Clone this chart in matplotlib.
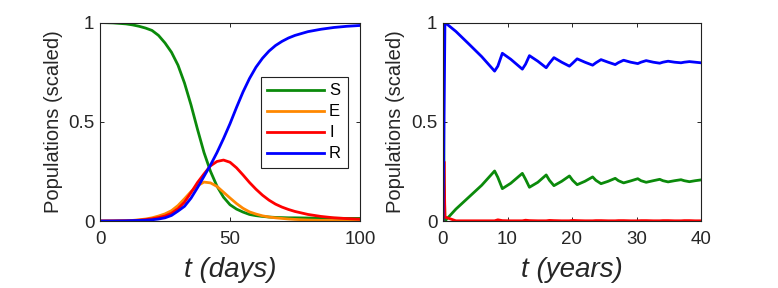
import matplotlib
matplotlib.use("Agg")
import matplotlib.pyplot as plt

plt.rcParams['font.family'] = ['Liberation Sans', 'DejaVu Sans']

# left panel: SEIR over days
t_days = [0, 5, 10, 12.5, 15, 17.5, 20, 22.5, 25, 27.5, 30, 32.5, 35, 37.5, 40, 42.5, 45,
          47.5, 50, 52.5, 55, 57.5, 60, 62.5, 65, 67.5, 70, 72.5, 75, 80, 85, 90, 95, 100]
S_days = [1.0, 0.998, 0.993, 0.988, 0.981, 0.972, 0.96, 0.935, 0.897, 0.85, 0.785, 0.695,
          0.585, 0.462, 0.345, 0.25, 0.175, 0.12, 0.082, 0.06, 0.045, 0.033, 0.027, 0.023,
          0.02, 0.018, 0.017, 0.016, 0.016, 0.015, 0.014, 0.014, 0.013, 0.013]
E_days = [0.0, 0.0005, 0.002, 0.003, 0.006, 0.01, 0.016, 0.025, 0.036, 0.052, 0.078,
          0.112, 0.148, 0.178, 0.196, 0.192, 0.174, 0.145, 0.116, 0.088, 0.064, 0.046,
          0.035, 0.026, 0.02, 0.016, 0.013, 0.01, 0.008, 0.005, 0.003, 0.002, 0.001, 0.001]
I_days = [0.0, 0.0003, 0.001, 0.002, 0.004, 0.007, 0.011, 0.017, 0.025, 0.039, 0.062,
          0.095, 0.143, 0.194, 0.237, 0.278, 0.3, 0.307, 0.296, 0.268, 0.232, 0.194, 0.16,
          0.13, 0.105, 0.085, 0.07, 0.058, 0.048, 0.033, 0.023, 0.016, 0.012, 0.009]
R_days = [0.0, 0.0002, 0.001, 0.002, 0.003, 0.004, 0.006, 0.01, 0.016, 0.028, 0.05,
          0.074, 0.115, 0.168, 0.225, 0.282, 0.345, 0.415, 0.49, 0.572, 0.65, 0.718, 0.775,
          0.82, 0.856, 0.884, 0.905, 0.922, 0.935, 0.954, 0.966, 0.975, 0.981, 0.985]

# right panel: long run over years
t_years = [0, 0.15, 0.3, 2, 4, 6, 8, 8.5, 9.2, 10.5, 12.3, 12.8, 13.4, 14.7, 16.0, 16.5,
           17.2, 18.4, 19.6, 20.1, 20.8, 22.0, 23.2, 23.7, 24.5, 25.6, 26.7, 27.2, 28.0,
           29.1, 30.2, 30.7, 31.5, 32.6, 33.6, 34.1, 34.9, 35.9, 36.9, 37.4, 38.2, 39.1, 40]
S_years = [1.0, 0.25, 0.0, 0.06, 0.12, 0.18, 0.252, 0.22, 0.163, 0.19, 0.24, 0.21, 0.17,
           0.195, 0.232, 0.205, 0.178, 0.2, 0.227, 0.205, 0.183, 0.2, 0.222, 0.205, 0.188,
           0.2, 0.215, 0.203, 0.192, 0.202, 0.213, 0.203, 0.195, 0.203, 0.21, 0.203, 0.197,
           0.203, 0.208, 0.203, 0.198, 0.203, 0.207]
I_years = [0.0, 0.3, 0.02, 0.001, 0.001, 0.001, 0.001, 0.006, 0.002, 0.001, 0.001, 0.004,
           0.002, 0.001, 0.001, 0.003, 0.002, 0.001, 0.001, 0.003, 0.002, 0.001, 0.001,
           0.002, 0.002, 0.001, 0.001, 0.002, 0.002, 0.001, 0.001, 0.002, 0.002, 0.001,
           0.001, 0.002, 0.002, 0.001, 0.001, 0.002, 0.002, 0.001, 0.001]
R_years = [0.0, 0.45, 1.0, 0.955, 0.892, 0.828, 0.755, 0.78, 0.845, 0.815, 0.765, 0.79,
           0.833, 0.805, 0.772, 0.795, 0.823, 0.8, 0.78, 0.795, 0.817, 0.8, 0.785, 0.797,
           0.813, 0.8, 0.788, 0.798, 0.81, 0.8, 0.793, 0.8, 0.808, 0.8, 0.795, 0.8, 0.805,
           0.8, 0.797, 0.8, 0.803, 0.8, 0.797]

labels = ["S", "E", "I", "R"]
c_S, c_E, c_I, c_R = "#0b8a0b", "#ff8800", "#ff0000", "#0000ff"
lw = 2.0
txt = "#262626"

fig = plt.figure(figsize=(7.78, 2.88), dpi=100)
ax1 = fig.add_axes([100 / 778, 67 / 288, 260 / 778, 198.5 / 288])
ax2 = fig.add_axes([443 / 778, 67 / 288, 258 / 778, 198.5 / 288])

ax1.plot(t_days, S_days, color=c_S, lw=lw, label=labels[0])
ax1.plot(t_days, E_days, color=c_E, lw=lw, label=labels[1])
ax1.plot(t_days, I_days, color=c_I, lw=lw, label=labels[2])
ax1.plot(t_days, R_days, color=c_R, lw=lw, label=labels[3])

ax2.plot(t_years, S_years, color=c_S, lw=lw)
ax2.plot(t_years, I_years, color=c_I, lw=lw)
ax2.plot(t_years, R_years, color=c_R, lw=lw)

for ax, xmax, xt, xl in [(ax1, 100, [0, 50, 100], "t (days)"),
                         (ax2, 40, [0, 10, 20, 30, 40], "t (years)")]:
    ax.set_xlim(0, xmax)
    ax.set_ylim(0, 1)
    ax.set_xticks(xt)
    ax.set_yticks([0, 0.5, 1])
    ax.set_yticklabels(["0", "0.5", "1"])
    ax.tick_params(direction="in", length=3, width=0.7, top=True, right=True,
                   labelsize=13.5, labelcolor=txt, color=txt)
    ax.tick_params(axis="x", pad=7)
    ax.tick_params(axis="y", pad=4)
    for sp in ax.spines.values():
        sp.set_linewidth(0.8)
        sp.set_color("#222222")
    ax.set_ylabel("Populations (scaled)", fontsize=14.5, color=txt)
    ax.set_xlabel(xl, fontsize=20, fontstyle="italic", color=txt)
    ax.xaxis.set_label_coords(0.5, -0.18)

ax1.yaxis.set_label_coords(-0.142, 0.5)
ax2.yaxis.set_label_coords(-0.147, 0.5)

leg = ax1.legend(loc="upper right", bbox_to_anchor=(0.953, 0.727), fontsize=12,
                 handlelength=3.4, handletextpad=0.3, borderpad=0.4,
                 labelspacing=0.36, borderaxespad=0, fancybox=False, framealpha=1)
leg.get_frame().set_edgecolor("#222222")
leg.get_frame().set_linewidth(0.8)

fig.savefig("out.png", dpi=100)
